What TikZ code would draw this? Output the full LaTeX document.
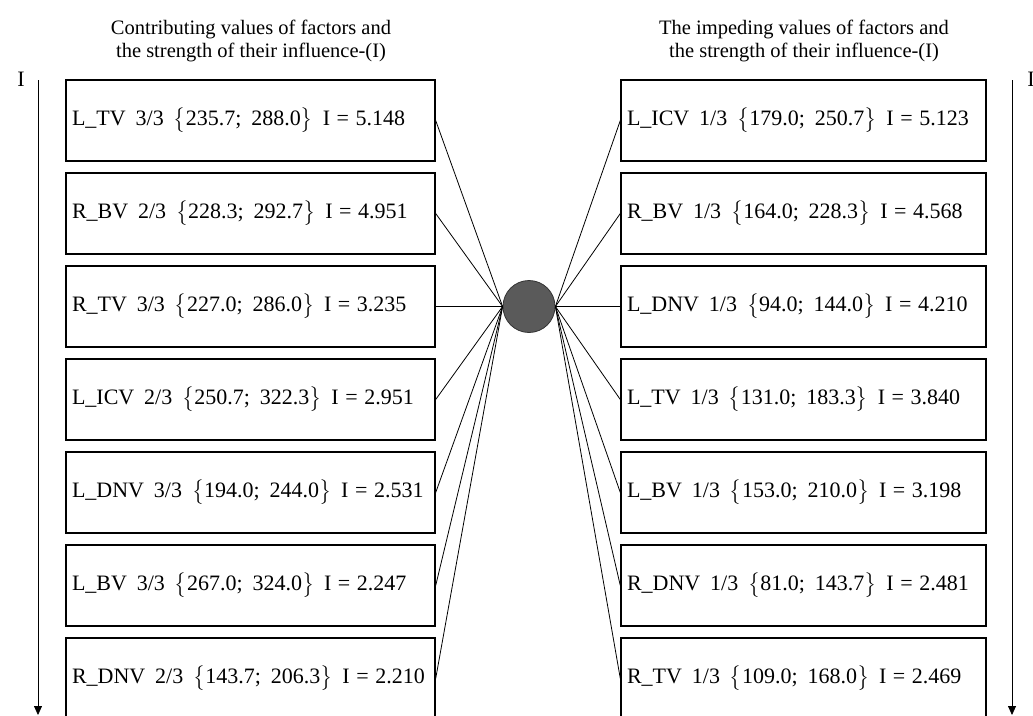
\documentclass[tikz,border=0pt]{standalone}
\usepackage{amsmath}
\usepackage{fontspec}
\setmainfont{Liberation Serif}
\usetikzlibrary{arrows.meta}
\definecolor{hubfill}{HTML}{5A5A5A}
\definecolor{hubdraw}{HTML}{333333}
\tikzset{
  factorbox/.style={draw, line width=1.4pt, minimum width=#1, minimum height=81pt,
    text width=#1-12pt, align=left, inner xsep=6pt, font=\fontsize{22}{26}\selectfont},
  header/.style={align=center, font=\fontsize{20.5}{23}\selectfont},
  link/.style={line width=0.8pt},
  axis/.style={line width=0.8pt, -{Triangle[length=9pt,width=8pt]}},
  axlabel/.style={font=\fontsize{22}{24}\selectfont},
}
\newcommand{\gp}{\hspace{0.45em}}
\newcommand{\fct}[5]{\mbox{#1\gp#2\gp$\big\{$#3;\gp#4$\big\}$\gp I\hspace{0.3em}=\hspace{0.3em}#5}}
\begin{document}
\begin{tikzpicture}[x=1pt,y=-1pt]
\useasboundingbox (0,0) rectangle (1033,715);
% headers
\node[header] (hl) at (251,41) {Contributing values of factors and\\the strength of their influence-(I)};
\node[header] (hr) at (804,41) {The impeding values of factors and\\the strength of their influence-(I)};
% axes
\node[axlabel] (il) at (21,79) {I};
\node[axlabel] (ir) at (1031,79) {I};
\coordinate (al0) at (38,80);
\coordinate (al1) at (38,715);
\coordinate (ar0) at (1012,80);
\coordinate (ar1) at (1012,715);
\draw[axis] (al0) -- (al1);
\draw[axis] (ar0) -- (ar1);
% left boxes
\node[factorbox=369pt] (L1) at (250.5,120.5) {\fct{L\_TV}{3/3}{235.7}{288.0}{5.148}};
\node[factorbox=369pt] (L2) at (250.5,213.5) {\fct{R\_BV}{2/3}{228.3}{292.7}{4.951}};
\node[factorbox=369pt] (L3) at (250.5,306.5) {\fct{R\_TV}{3/3}{227.0}{286.0}{3.235}};
\node[factorbox=369pt] (L4) at (250.5,399.5) {\fct{L\_ICV}{2/3}{250.7}{322.3}{2.951}};
\node[factorbox=369pt] (L5) at (250.5,492.5) {\fct{L\_DNV}{3/3}{194.0}{244.0}{2.531}};
\node[factorbox=369pt] (L6) at (250.5,585.5) {\fct{L\_BV}{3/3}{267.0}{324.0}{2.247}};
\node[factorbox=369pt] (L7) at (250.5,678.5) {\fct{R\_DNV}{2/3}{143.7}{206.3}{2.210}};
% right boxes
\node[factorbox=365pt] (R1) at (803.5,120.5) {\fct{L\_ICV}{1/3}{179.0}{250.7}{5.123}};
\node[factorbox=365pt] (R2) at (803.5,213.5) {\fct{R\_BV}{1/3}{164.0}{228.3}{4.568}};
\node[factorbox=365pt] (R3) at (803.5,306.5) {\fct{L\_DNV}{1/3}{94.0}{144.0}{4.210}};
\node[factorbox=365pt] (R4) at (803.5,399.5) {\fct{L\_TV}{1/3}{131.0}{183.3}{3.840}};
\node[factorbox=365pt] (R5) at (803.5,492.5) {\fct{L\_BV}{1/3}{153.0}{210.0}{3.198}};
\node[factorbox=365pt] (R6) at (803.5,585.5) {\fct{R\_DNV}{1/3}{81.0}{143.7}{2.481}};
\node[factorbox=365pt] (R7) at (803.5,678.5) {\fct{R\_TV}{1/3}{109.0}{168.0}{2.469}};
% hub
\node[circle, draw=hubdraw, fill=hubfill, line width=0.8pt, minimum size=52pt, inner sep=0pt] (hub) at (529,306.5) {};
\foreach \k in {1,...,7}{
  \draw[link] (hub.west) -- (L\k.east);
  \draw[link] (hub.east) -- (R\k.west);
}
\end{tikzpicture}
\end{document}
